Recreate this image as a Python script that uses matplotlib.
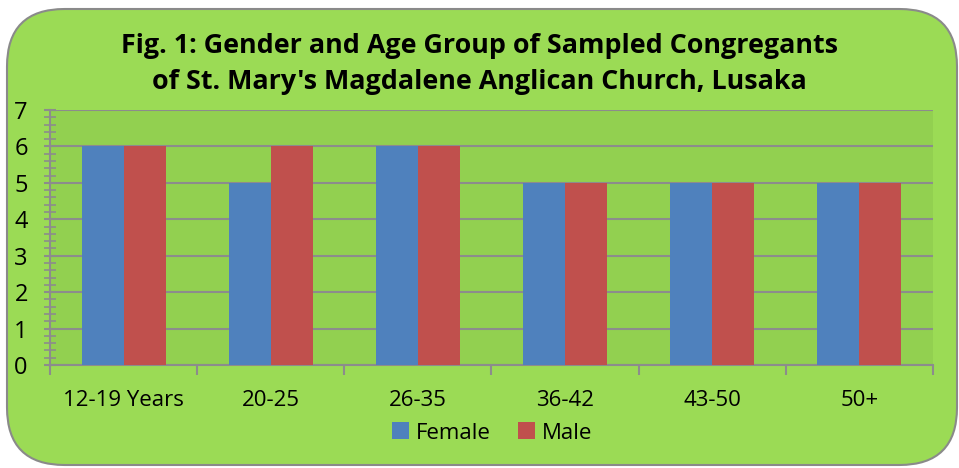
import matplotlib
matplotlib.use("Agg")
import matplotlib.pyplot as plt
import numpy as np
from matplotlib.patches import FancyBboxPatch
from matplotlib.ticker import MultipleLocator

categories = ["12-19 Years", "20-25", "26-35", "36-42", "43-50", "50+"]
female = [6, 5, 6, 5, 5, 5]
male = [6, 6, 6, 5, 5, 5]
series_names = ["Female", "Male"]
title = "Fig. 1: Gender and Age Group of Sampled Congregants\nof St. Mary's Magdalene Anglican Church, Lusaka"

W, H = 959, 468
fig = plt.figure(figsize=(W / 100, H / 100), dpi=100)
fig.patch.set_facecolor("white")

# rounded outer panel
panel = FancyBboxPatch((7 / W, 3 / H), (957 - 7) / W, (465 - 9) / H,
                       boxstyle="round,pad=0,rounding_size=0.06",
                       transform=fig.transFigure, facecolor="#9bdb55",
                       edgecolor="#8a8a8a", linewidth=1.5, zorder=-1,
                       mutation_aspect=W / H)
fig.patches.append(panel)

ax = fig.add_axes([50 / W, (H - 365) / H, (933 - 50) / W, (365 - 110) / H])
ax.set_facecolor("#92d050")

x = np.arange(len(categories))
bw = 0.2857
ax.bar(x - bw / 2, female, bw, color="#4f81bd", label=series_names[0], zorder=3)
ax.bar(x + bw / 2, male, bw, color="#c0504d", label=series_names[1], zorder=3)

ax.set_xlim(-0.5, len(categories) - 0.5)
ax.set_ylim(0, 7)
ax.yaxis.set_major_locator(MultipleLocator(1))
ax.yaxis.set_minor_locator(MultipleLocator(0.2))
ax.grid(axis="y", which="major", color="#8c8c8c", linewidth=1.5, zorder=1)
ax.set_axisbelow(True)

for s in ["top", "right"]:
    ax.spines[s].set_visible(False)
for s in ["left", "bottom"]:
    ax.spines[s].set_color("#8c8c8c")
    ax.spines[s].set_linewidth(1.5)

ax.set_xticks(x)
ax.set_xticklabels(categories, fontsize=16, fontfamily="Open Sans")
ax.set_xticks(np.arange(-0.5, len(categories)), minor=True)
ax.tick_params(axis="x", which="major", length=0, pad=18)
ax.tick_params(axis="x", which="minor", length=7, width=1.5, color="#8c8c8c", direction="out")
ax.tick_params(axis="y", which="major", length=8, width=1.5, color="#8c8c8c",
               direction="inout", labelsize=17, pad=12)
ax.tick_params(axis="y", which="minor", length=8, width=1.2, color="#8c8c8c", direction="inout")
for lab in ax.get_yticklabels():
    lab.set_fontfamily("Open Sans")

fig.text(0.5, (H - 64) / H, title, ha="center", va="center", fontsize=19.4,
         fontweight="bold", fontfamily="Open Sans", linespacing=1.5)

leg = fig.legend(loc="center", bbox_to_anchor=(492 / W, (H - 433) / H), ncol=2,
                 frameon=False, prop={"family": "Open Sans", "size": 16},
                 handlelength=0.8, handleheight=0.8, handletextpad=0.3, columnspacing=1.2)

fig.savefig("out.png", dpi=100, facecolor="white")
